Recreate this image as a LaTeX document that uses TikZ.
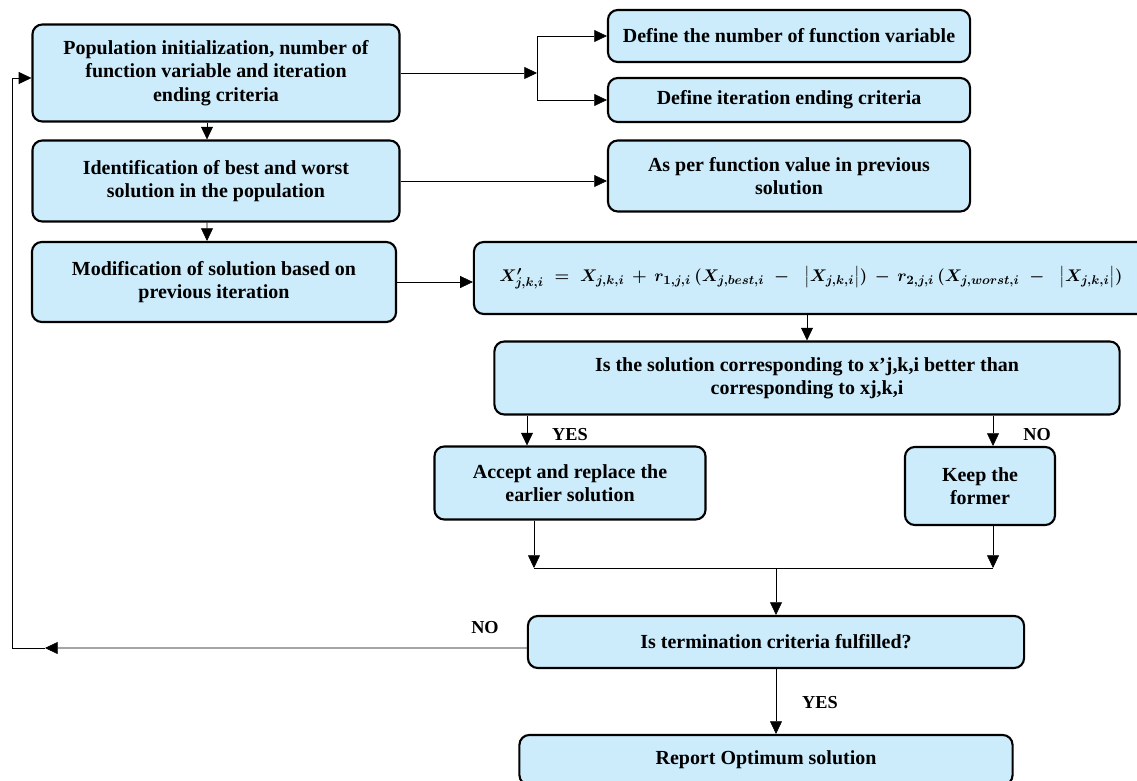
\documentclass[tikz,border=0pt]{standalone}
\usepackage{amsmath}
\usepackage{fontspec}
\setmainfont{Liberation Serif}
\usetikzlibrary{arrows.meta}
\definecolor{boxblue}{RGB}{204,236,252}
\begin{document}
\begin{tikzpicture}[x=0.025cm,y=-0.025cm,
  box/.style={draw, line width=1.5pt, rounded corners=7pt, fill=boxblue, align=center,
    font=\fontsize{14.2}{16.6}\selectfont\bfseries},
  arr/.style={-{Triangle[length=9pt,width=8.5pt]}},
  lbl/.style={font=\fontsize{13}{14}\selectfont\bfseries}]
\useasboundingbox (0,0) rectangle (1137,781);

%left column
\node [box, minimum width=9.175cm, minimum height=2.425cm] (init) at (216,73)
  {Population initialization, number of\\ function variable and iteration\\ ending criteria};
\node [box, minimum width=9.175cm, minimum height=2.025cm] (ident) at (216,181)
  {Identification of best and worst\\ solution in the population};
\node [box, minimum width=9.1cm, minimum height=2cm] (modif) at (214,282)
  {Modification of solution based on\\ previous iteration};

%right column
\node [box, minimum width=9.05cm, minimum height=1.3cm] (defvar) at (789,36)
  {Define the number of function variable};
\node [box, minimum width=9.05cm, minimum height=1.1cm] (defend) at (789,100)
  {Define iteration ending criteria};
\node [box, minimum width=9.05cm, minimum height=1.775cm] (perval) at (789,176)
  {As per function value in previous\\ solution};

% update rule
\node [box, minimum width=16.85cm, minimum height=1.8cm, font=\fontsize{13}{15}\selectfont] (update) at (811,278)
  {$\boldsymbol{X'_{j,k,i} \;=\; X_{j,k,i} \,+\, r_{1,j,i}\,(X_{j,best,i} \;-\;\; \left|X_{j,k,i}\right|) \,-\, r_{2,j,i}\,(X_{j,worst,i} \;-\;\; \left|X_{j,k,i}\right|)}$};

%decision and outcomes
\node [box, minimum width=15.625cm, minimum height=1.825cm] (better) at (807,378)
  {Is the solution corresponding to x'j,k,i better than\\ corresponding to xj,k,i};
\node [box, minimum width=6.775cm, minimum height=1.825cm] (accept) at (570,483)
  {Accept and replace the\\ earlier solution};
\node [box, minimum width=3.75cm, minimum height=1.95cm] (keep) at (980,486)
  {Keep the\\ former};
\node [box, minimum width=12.4cm, minimum height=1.3cm] (term) at (776,642)
  {Is termination criteria fulfilled?};
\node [box, minimum width=12.325cm, minimum height=1.25cm] (report) at (766,760)
  {Report Optimum solution};

% helper points
\coordinate (split) at (537,73);
\coordinate (merge) at (776,568);
\coordinate (back) at (12,648);
\coordinate (noarr) at (45,648);

% arrows
\draw [arr] (init.east) -- (split);
\draw [arr] (split) |- (defvar.west);
\draw [arr] (split) |- (defend.west);
\draw [arr] ([xshift=-0.225cm]init.south) -- ([xshift=-0.225cm]ident.north);
\draw [arr] ([xshift=-0.225cm]ident.south) -- ([xshift=-0.175cm]modif.north);
\draw [arr] (ident.east) -- (ident.east -| perval.west);
\draw [arr] (modif.east) -- (modif.east -| update.west);
\draw [arr] (update.south -| better.north) -- (better.north);

\draw [arr] ([xshift=-1.075cm]accept.north |- better.south) -- ([xshift=-1.075cm]accept.north);
\draw [arr] ([xshift=0.325cm]keep.north |- better.south) -- ([xshift=0.325cm]keep.north);
\node [lbl] (yes1) at (570,435) {YES};
\node [lbl] (no1) at (1037,435) {NO};

\draw [arr] ([xshift=-0.9cm]accept.south) -- ([xshift=-0.9cm]accept.south |- merge);
\draw [arr] ([xshift=0.325cm]keep.south) -- ([xshift=0.325cm]keep.south |- merge);
\draw ([xshift=-0.9cm]accept.south |- merge) -- ([xshift=0.325cm]keep.south |- merge);
\draw [arr] (merge) -- (term.north);

% loop back
\draw [arr] ([yshift=-0.15cm]term.west) -- (noarr);
\draw [arr] (noarr) -- (back) |- ([yshift=-0.125cm]init.west);
\node [lbl] (no2) at (485,628) {NO};

\draw [arr] (term.south) -- (term.south |- report.north);
\node [lbl] (yes2) at (820,703) {YES};
\end{tikzpicture}
\end{document}
